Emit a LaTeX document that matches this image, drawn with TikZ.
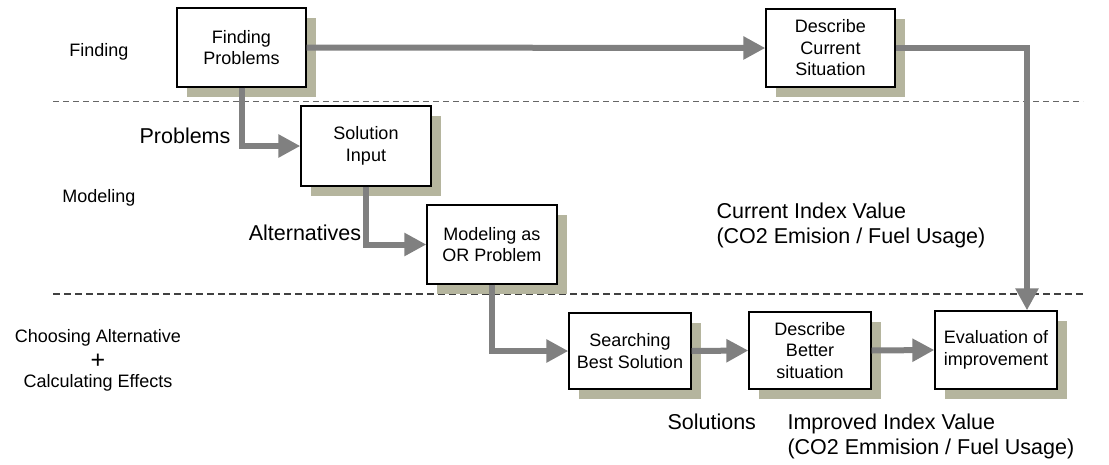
\documentclass[tikz,border=0pt]{standalone}
\usepackage{fontspec}
\setmainfont{Liberation Sans}
\usetikzlibrary{arrows.meta,shadows}
\definecolor{shadowc}{RGB}{181,181,158}
\definecolor{arrowc}{RGB}{128,128,128}
\begin{document}
\begin{tikzpicture}[x=1pt,y=-1pt,
  box/.style={draw=black,line width=1.3pt,fill=white,align=center,
    font=\fontsize{18}{21.5}\selectfont,inner sep=2pt,
    drop shadow={shadow xshift=10pt,shadow yshift=-10pt,fill=shadowc,opacity=1}},
  flow/.style={draw=arrowc,line width=6pt,-{Triangle[length=22pt,width=22pt]}},
  sidelab/.style={font=\fontsize{18}{21}\selectfont,align=center,inner sep=1pt},
  biglab/.style={font=\fontsize{21.5}{25}\selectfont,align=left},
  septhin/.style={draw=black!60,line width=0.9pt,dash pattern=on 6pt off 4pt},
  septhick/.style={draw=black!75,line width=1.6pt,dash pattern=on 7pt off 4pt}]
\useasboundingbox (0,0) rectangle (1109,464);
% separators
\coordinate (s1a) at (53,101); \coordinate (s1b) at (1083,101);
\coordinate (s2a) at (53,294); \coordinate (s2b) at (1083,294);
\draw[septhin] (s1a) -- (s1b);
\draw[septhick] (s2a) -- (s2b);
% boxes
\node[box,minimum width=129pt,minimum height=79pt] (fp) at (241.5,47.5) {Finding\\Problems};
\node[box,minimum width=129pt,minimum height=78pt] (dc) at (830.5,48) {Describe\\Current\\Situation};
\node[box,minimum width=130pt,minimum height=80pt] (si) at (366,146) {Solution\\Input};
\node[box,minimum width=130pt,minimum height=79pt] (mo) at (492,244.5) {Modeling as\\OR Problem};
\node[box,minimum width=122pt,minimum height=76pt] (sb) at (630,351) {Searching\\Best Solution};
\node[box,minimum width=122pt,minimum height=77pt] (db) at (810,350.5) {Describe\\Better\\situation};
\node[box,minimum width=122pt,minimum height=78pt] (ev) at (996,350) {Evaluation of\\improvement};
% side labels
\node[sidelab] (lf) at (99,52) {Finding};
\node[sidelab] (lm) at (99,198) {Modeling};
\node[sidelab] (lc1) at (98,338) {Choosing Alternative};
\node[sidelab,font=\fontsize{25}{25}\selectfont] (lc2) at (98,361) {+};
\node[sidelab] (lc3) at (98,383) {Calculating Effects};
% flow labels
\node[biglab] (lp) at (185,136) {Problems};
\node[biglab] (la) at (305,233) {Alternatives};
\node[biglab,anchor=west] (lci) at (713,225) {Current Index Value\\(CO2 Emision / Fuel Usage)};
\node[biglab,anchor=west] (ls) at (664,422) {Solutions};
\node[biglab,anchor=west] (lii) at (784,436) {Improved Index Value\\(CO2 Emmision / Fuel Usage)};
% arrows
\coordinate (c2) at (1027,48);
\draw[flow] (fp.east) -- (dc.west);
\draw[flow] (dc.east) -- (c2) -- (c2 |- ev.north);
\draw[flow] (fp.south) |- (si.west);
\draw[flow] (si.south) |- (mo.west);
\draw[flow] (mo.south) |- (sb.west);
\draw[flow] (sb.east) -- (db.west);
\draw[flow] (db.east) -- (ev.west);
\end{tikzpicture}
\end{document}
